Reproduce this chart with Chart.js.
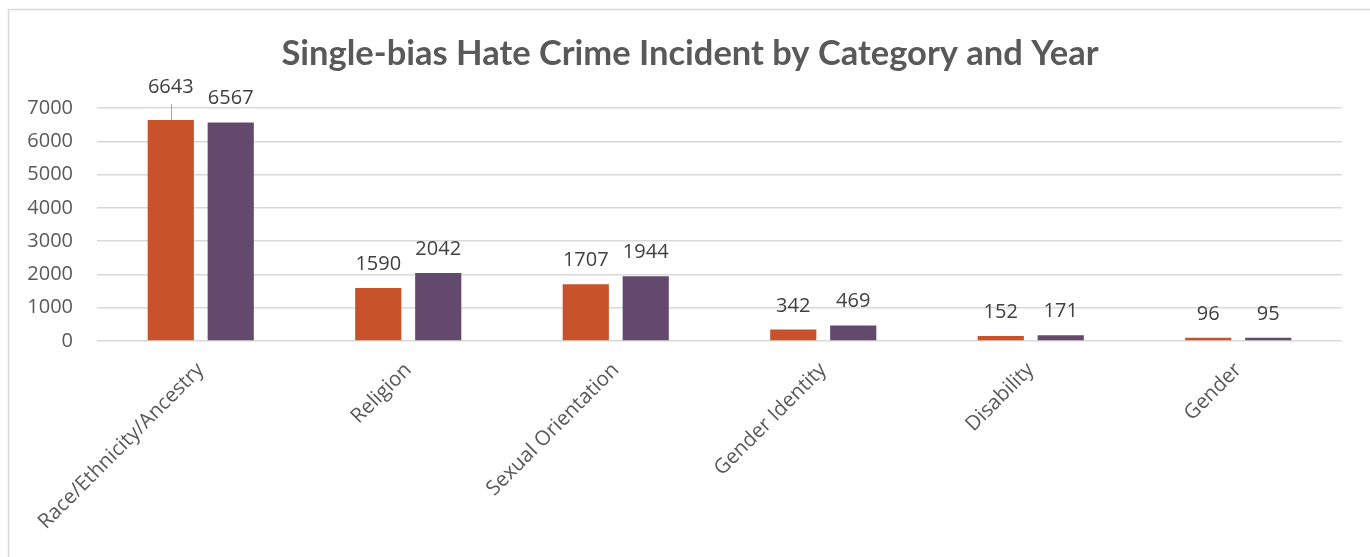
<!DOCTYPE html>
<html>
<head>
<meta charset="utf-8">
<script src="https://cdn.jsdelivr.net/npm/chart.js@4.4.1/dist/chart.umd.min.js"></script>
<style>
  html, body { margin: 0; padding: 0; background: #ffffff; }
  #wrap { position: relative; width: 1370px; height: 557px; }
</style>
</head>
<body>
<div id="wrap"><canvas id="chart" width="1370" height="557"></canvas></div>
<script>
// Single-bias hate crime incidents, two reporting years per category
const categories = ['Race/Ethnicity/Ancestry', 'Religion', 'Sexual Orientation', 'Gender Identity', 'Disability', 'Gender'];
const yearA = [6643, 1590, 1707, 342, 152, 96];
const yearB = [6567, 2042, 1944, 469, 171, 95];
const yTicks = [0, 1000, 2000, 3000, 4000, 5000, 6000, 7000];

const TITLE = 'Single-bias Hate Crime Incident by Category and Year';
const TEXT_FONT = '"Open Sans", "DejaVu Sans", sans-serif';

// Outer frame of the chart object (left and top edges only are in view)
const framePlugin = {
  id: 'frame',
  beforeDraw(chart) {
    const ctx = chart.ctx;
    ctx.save();
    ctx.strokeStyle = '#d9d9d9';
    ctx.lineWidth = 1.5;
    ctx.beginPath();
    ctx.moveTo(8.5, chart.height + 2);
    ctx.lineTo(8.5, 9.5);
    ctx.lineTo(chart.width + 2, 9.5);
    ctx.stroke();
    ctx.restore();
  }
};

// Chart heading
const headingPlugin = {
  id: 'heading',
  afterDraw(chart) {
    const ctx = chart.ctx;
    ctx.save();
    ctx.fillStyle = '#595959';
    ctx.font = 'bold 34.5px Lato, "Open Sans", sans-serif';
    ctx.textAlign = 'center';
    ctx.textBaseline = 'alphabetic';
    ctx.fillText(TITLE, 690, 65);
    ctx.restore();
  }
};

// Value labels above each bar; one label is raised with a leader line
const LIFTED = [{ dataset: 0, index: 0, lift: 9 }];
const valueLabelPlugin = {
  id: 'valueLabels',
  afterDatasetsDraw(chart) {
    const ctx = chart.ctx;
    ctx.save();
    ctx.font = '20px ' + TEXT_FONT;
    ctx.fillStyle = '#404040';
    ctx.textAlign = 'center';
    ctx.textBaseline = 'alphabetic';
    chart.data.datasets.forEach((ds, di) => {
      const meta = chart.getDatasetMeta(di);
      meta.data.forEach((bar, i) => {
        const lifted = LIFTED.find(l => l.dataset === di && l.index === i);
        let base = bar.y - 18;
        if (lifted) {
          base -= lifted.lift;
          ctx.save();
          ctx.strokeStyle = '#a6a6a6';
          ctx.lineWidth = 1;
          ctx.beginPath();
          ctx.moveTo(Math.round(bar.x) + 0.5, base + 11);
          ctx.lineTo(Math.round(bar.x) + 0.5, bar.y);
          ctx.stroke();
          ctx.restore();
        }
        ctx.fillText(String(ds.data[i]), bar.x, base);
      });
    });
    ctx.restore();
  }
};

new Chart(document.getElementById('chart'), {
  type: 'bar',
  data: {
    labels: categories,
    datasets: [
      { label: 'Year 1', data: yearA, backgroundColor: '#c8522a', barPercentage: 0.77, categoryPercentage: 0.578 },
      { label: 'Year 2', data: yearB, backgroundColor: '#634a6d', barPercentage: 0.77, categoryPercentage: 0.578 }
    ]
  },
  options: {
    responsive: false,
    animation: false,
    layout: { padding: { top: 108, right: 28, bottom: 0, left: 0 } },
    plugins: {
      legend: { display: false },
      title: { display: false },
      tooltip: { enabled: false }
    },
    scales: {
      x: {
        grid: { display: false, drawTicks: false },
        border: { display: false },
        ticks: {
          color: '#595959',
          font: { family: TEXT_FONT, size: 20.5 },
          minRotation: 45,
          maxRotation: 45,
          autoSkip: false,
          padding: 17
        },
        afterFit(scale) { scale.height = 216; }
      },
      y: {
        min: 0,
        max: 7000,
        afterBuildTicks(scale) { scale.ticks = yTicks.map(v => ({ value: v })); },
        grid: { color: '#d9d9d9', lineWidth: 1.5, drawTicks: false },
        border: { display: false },
        ticks: {
          color: '#595959',
          font: { family: TEXT_FONT, size: 20 },
          padding: 24,
          callback: v => String(v)
        },
        afterFit(scale) { scale.width = 97; }
      }
    }
  },
  plugins: [framePlugin, headingPlugin, valueLabelPlugin]
});
</script>
</body>
</html>
